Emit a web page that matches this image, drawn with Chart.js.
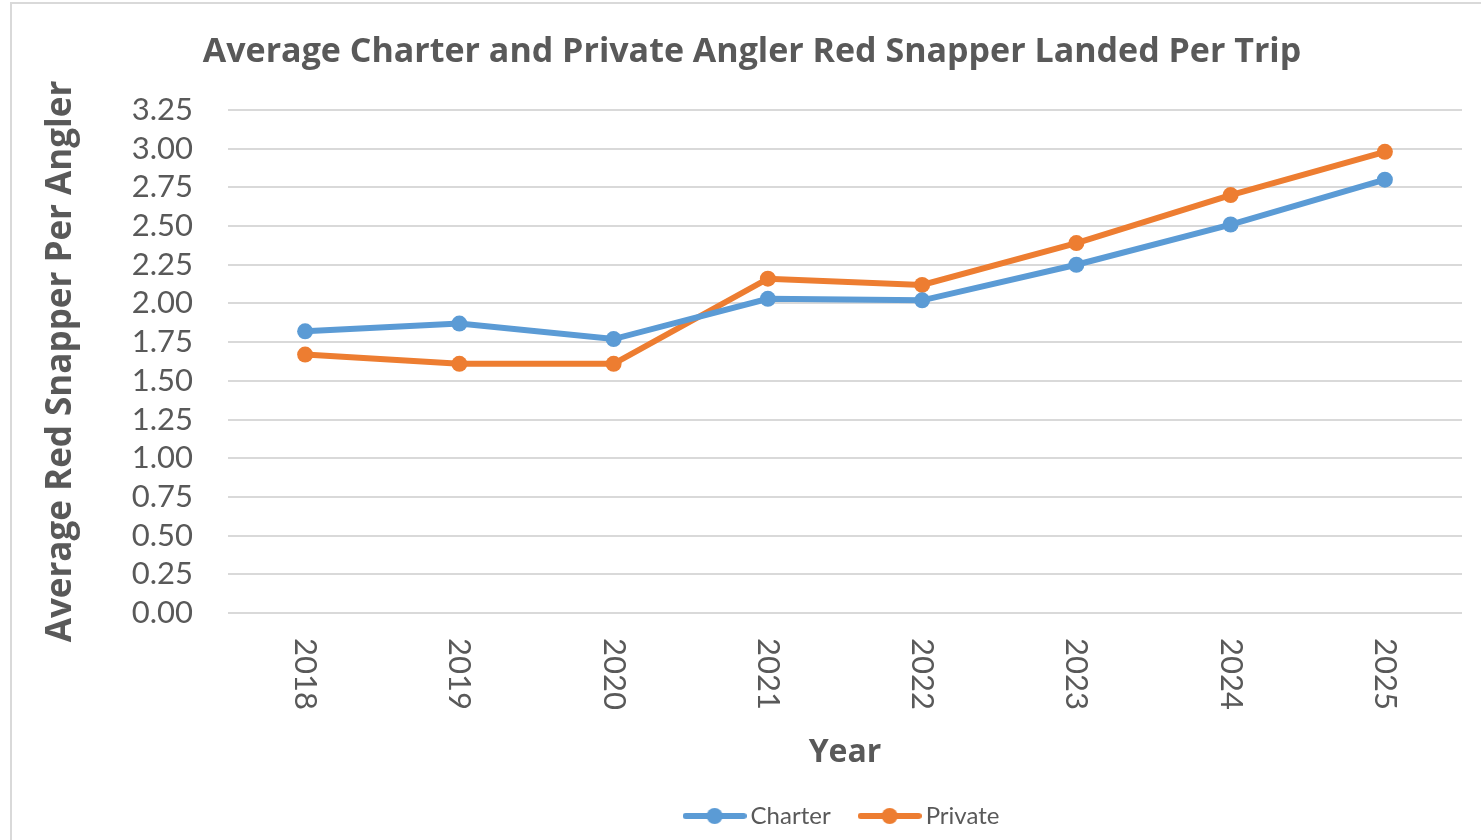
<!DOCTYPE html>
<html>
<head>
<meta charset="utf-8">
<script src="https://cdn.jsdelivr.net/npm/chart.js@4.4.1/dist/chart.umd.min.js"></script>
<style>
  html, body { margin: 0; padding: 0; background: #ffffff; overflow: hidden; }
  #frame { position: absolute; left: 10px; top: 2px; width: 1500px; height: 900px; border: 2px solid #d9d9d9; box-sizing: border-box; }
  #wrap { position: absolute; left: 0; top: 0; width: 1481px; height: 840px; }
</style>
</head>
<body>
<div id="frame"></div>
<div id="wrap"><canvas id="c" width="1481" height="840"></canvas></div>
<script>
const years = ['2018', '2019', '2020', '2021', '2022', '2023', '2024', '2025'];
const charter = [1.82, 1.87, 1.77, 2.03, 2.02, 2.25, 2.51, 2.80];
const privateAnglers = [1.67, 1.61, 1.61, 2.16, 2.12, 2.39, 2.70, 2.98];
const yTicks = [0, 0.25, 0.5, 0.75, 1.0, 1.25, 1.5, 1.75, 2.0, 2.25, 2.5, 2.75, 3.0, 3.25];

const FONT = 'Lato, "Open Sans", sans-serif';
const BOLD_FONT = '"Open Sans", Lato, sans-serif';
const GREY = '#595959';
const BLUE = '#5B9BD5';
const ORANGE = '#ED7D31';

function legendIcon(color) {
  const cv = document.createElement('canvas');
  cv.width = 64; cv.height = 20;
  const g = cv.getContext('2d');
  g.strokeStyle = color; g.lineWidth = 6; g.lineCap = 'round';
  g.beginPath(); g.moveTo(3, 10); g.lineTo(61, 10); g.stroke();
  g.fillStyle = color;
  g.beginPath(); g.arc(32, 10, 8, 0, Math.PI * 2); g.fill();
  return cv;
}
const icons = [legendIcon(BLUE), legendIcon(ORANGE)];

const xLabelPlugin = {
  id: 'xLabels',
  afterDraw(chart) {
    const ctx = chart.ctx;
    const xs = chart.scales.x;
    ctx.save();
    ctx.font = '31px ' + FONT;
    ctx.fillStyle = GREY;
    ctx.textAlign = 'left';
    ctx.textBaseline = 'middle';
    years.forEach((lab, i) => {
      const px = xs.getPixelForTick(i);
      ctx.save();
      ctx.translate(px, chart.chartArea.bottom + 25);
      ctx.rotate(Math.PI / 2);
      ctx.fillText(lab, 0, 0);
      ctx.restore();
    });
    ctx.restore();
  }
};

new Chart(document.getElementById('c'), {
  type: 'line',
  data: {
    labels: years,
    datasets: [
      { label: 'Charter', data: charter, borderColor: BLUE, backgroundColor: BLUE,
        borderWidth: 6, pointRadius: 8, pointHoverRadius: 8, pointBackgroundColor: BLUE,
        pointBorderWidth: 0, tension: 0 },
      { label: 'Private', data: privateAnglers, borderColor: ORANGE, backgroundColor: ORANGE,
        borderWidth: 6, pointRadius: 8, pointHoverRadius: 8, pointBackgroundColor: ORANGE,
        pointBorderWidth: 0, tension: 0 }
    ]
  },
  options: {
    responsive: false,
    animation: false,
    layout: { padding: { left: 42, right: 19, top: 0, bottom: 2 } },
    plugins: {
      title: {
        display: true,
        text: 'Average Charter and Private Angler Red Snapper Landed Per Trip',
        color: GREY,
        font: { family: BOLD_FONT, size: 34, weight: 'bold', lineHeight: 1.2 },
        padding: { top: 32, bottom: 37.2 }
      },
      legend: {
        position: 'bottom',
        fullSize: false,
        labels: {
          color: GREY,
          font: { family: FONT, size: 24 },
          usePointStyle: true,
          pointStyleWidth: 48,
          padding: 35,
          generateLabels(chart) {
            return chart.data.datasets.map((ds, i) => ({
              text: ds.label, pointStyle: icons[i], fillStyle: ds.borderColor,
              strokeStyle: ds.borderColor, lineWidth: 0, hidden: false, datasetIndex: i,
              fontColor: GREY
            }));
          }
        }
      },
      tooltip: { enabled: false }
    },
    scales: {
      x: {
        offset: true,
        grid: { display: false, drawTicks: false },
        border: { display: false },
        ticks: { display: false },
        title: {
          display: true, text: 'Year', color: GREY,
          font: { family: BOLD_FONT, size: 32, weight: 'bold', lineHeight: 1.0 },
          padding: { bottom: 0 }
        },
        afterFit(scale) { scale.height = 156; }
      },
      y: {
        min: 0, max: 3.25,
        afterBuildTicks(scale) { scale.ticks = yTicks.map(v => ({ value: v })); },
        grid: { color: '#d9d9d9', lineWidth: 2, drawTicks: false },
        border: { display: false },
        ticks: {
          color: GREY, padding: 35, autoSkip: false,
          font: { family: FONT, size: 31 },
          callback: v => Number(v).toFixed(2)
        },
        title: {
          display: true, text: 'Average Red Snapper Per Angler', color: GREY,
          font: { family: BOLD_FONT, size: 35, weight: 'bold', lineHeight: 1.2 },
          padding: { top: -2 }
        },
        afterFit(scale) { scale.width = 186; }
      }
    }
  },
  plugins: [xLabelPlugin]
});
</script>
</body>
</html>
